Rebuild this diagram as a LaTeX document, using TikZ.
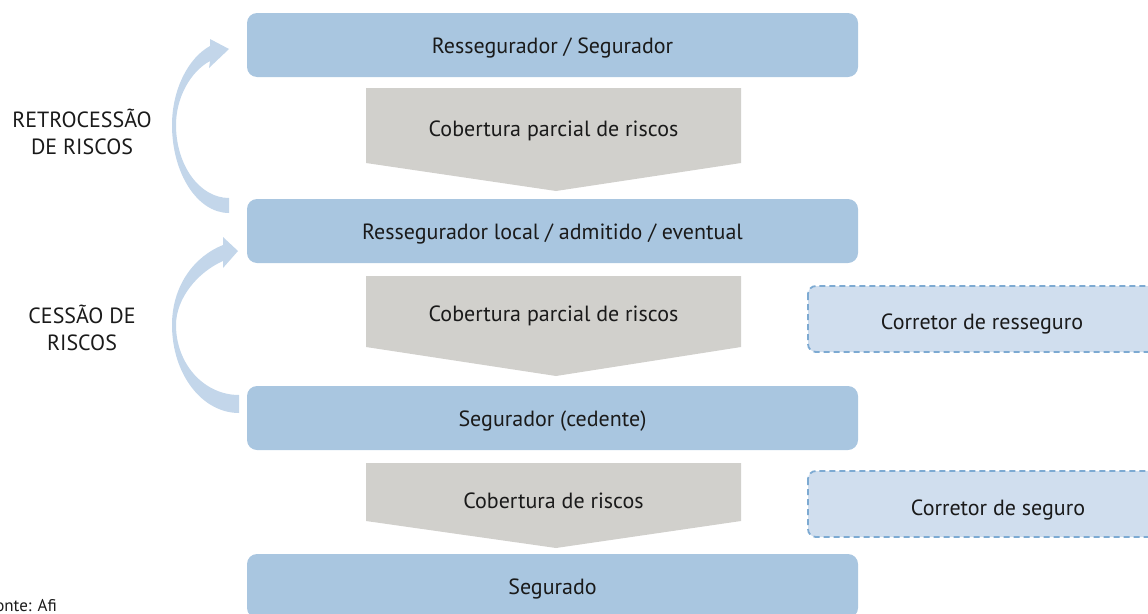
\documentclass[tikz,border=0pt]{standalone}
\usepackage{fontspec}
\setmainfont{PT Sans}
\definecolor{boxblue}{HTML}{A9C6E0}
\definecolor{arrowblue}{HTML}{C3D6EA}
\definecolor{boxgray}{HTML}{D1D0CC}
\definecolor{dashfill}{HTML}{D0DEEE}
\definecolor{dashline}{HTML}{7DAAD2}
\definecolor{txt}{HTML}{1A1A1A}
\begin{document}
\begin{tikzpicture}[x=1pt,y=-1pt,
  bluebox/.style={fill=boxblue, rounded corners=10pt, minimum width=611pt, minimum height=64pt, inner sep=0pt, font=\fontsize{22}{26}\selectfont, text=txt, text height=17pt, text depth=0pt},
  label/.style={font=\fontsize{22}{26}\selectfont, text=txt, inner sep=0pt, text height=17pt, text depth=0pt},
  sidelabel/.style={font=\fontsize{22}{27}\selectfont, text=txt, align=center, inner sep=0pt},
  grayshape/.style={fill=boxgray},
  curvearrow/.style={fill=arrowblue},
  dashbox/.style={fill=dashfill, draw=dashline, line width=1.8pt, dash pattern=on 6pt off 4pt, rounded corners=8pt}]
\useasboundingbox (0,0) rectangle (1148,613);
\clip (0,0) rectangle (1148,613);

% gray coverage shapes
\fill[grayshape] (366,88) -- (741,88) -- (741,163) -- (556,191) -- (366,163) -- cycle;
\fill[grayshape] (366,276) -- (741,276) -- (741,347) -- (556,376) -- (366,347) -- cycle;
\fill[grayshape] (366,463) -- (741,463) -- (741,521) -- (556,548) -- (366,521) -- cycle;

% blue boxes
\node[bluebox] (b1) at (552.5,45) {Ressegurador / Segurador};
\node[bluebox] (b2) at (552.5,231) {Ressegurador local / admitido / eventual};
\node[bluebox] (b3) at (552.5,418) {Segurador (cedente)};
\node[bluebox] (b4) at (552.5,586) {Segurado};

% gray labels
\node[label] (g1) at (553.5,128) {Cobertura parcial de riscos};
\node[label] (g2) at (553.5,313) {Cobertura parcial de riscos};
\node[label] (g3) at (553.5,500) {Cobertura de riscos};

% dashed boxes
\draw[dashbox] (808,286) rectangle (1170,352);
\node[label] (c1) at (982,321) {Corretor de resseguro};
\draw[dashbox] (808,471) rectangle (1170,537);
\node[label] (c2) at (998,507) {Corretor de seguro};

% curved arrows
\fill[curvearrow] (229,213) .. controls (197.5,213) and (172,173.6) .. (172,125)
  .. controls (172,90) and (188,58) .. (210,46) -- (210,39) -- (229,49) -- (209,68) -- (210,61)
  .. controls (190,72) and (176,98) .. (176,125)
  .. controls (176,165.3) and (199.7,198) .. (229,198) -- cycle;
\fill[curvearrow] (239,413) .. controls (202,413) and (172,374) .. (172,325)
  .. controls (172,285) and (195,256) .. (223,245) -- (223,237) -- (238,251) -- (223,268) -- (223,261)
  .. controls (198,272) and (176,298) .. (176,325)
  .. controls (176,364) and (204,395) .. (239,395) -- cycle;

% side labels
\node[sidelabel] (l1) at (82,132) {RETROCESSÃO\\DE RISCOS};
\node[sidelabel] (l2) at (82,328) {CESSÃO DE\\RISCOS};

% source
\node[font=\fontsize{17}{19}\selectfont, text=txt, anchor=base east, inner sep=0pt] (src) at (57,611) {Fonte: Afi};
\end{tikzpicture}
\end{document}
